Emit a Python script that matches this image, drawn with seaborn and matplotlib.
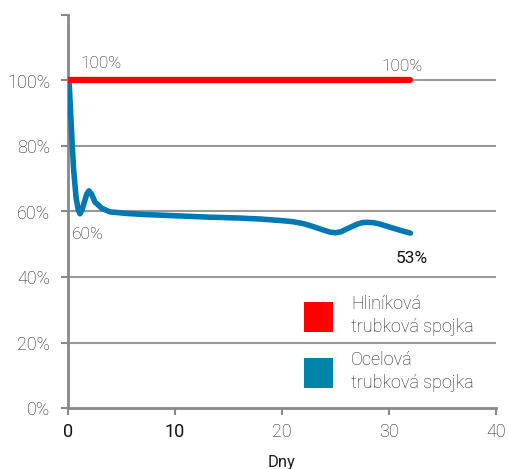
import matplotlib
matplotlib.use("Agg")
import matplotlib.pyplot as plt
import seaborn as sns
import pandas as pd
from matplotlib.patches import Patch

# ---- data ----
days_steel = [0, 0.05, 0.12, 0.28, 0.4, 0.53, 0.75, 0.95, 1.12, 1.3, 1.5, 1.75, 1.96, 2.2,
              2.52, 3.15, 3.9, 5.5, 7, 10, 13, 16, 18, 20, 21, 22, 23, 24, 24.5, 25, 25.5,
              26, 27, 27.5, 28, 28.5, 29, 30, 31, 32]
steel = [100, 99.8, 98.5, 88, 80, 72.6, 64.4, 60.6, 59.3, 60.4, 62.5, 65.3, 66.3, 65.3,
         62.9, 61, 59.9, 59.4, 59.1, 58.7, 58.3, 58, 57.7, 57.2, 56.9, 56.3, 55.3, 54.2, 53.7, 53.5, 53.8,
         54.6, 56.1, 56.6, 56.7, 56.6, 56.3, 55.3, 54.3, 53.4]
days_alu = [0, 32]
alu = [100, 100]

series_names = ["Hliníková\ntrubková spojka", "Ocelová\ntrubková spojka"]
x_ticks = [0, 10, 20, 30, 40]
y_ticks = [0, 20, 40, 60, 80, 100, 120]
y_tick_labels = ["0%", "20%", "40%", "60%", "80%", "100%", ""]
x_label = "Dny"

RED = "#ff0000"
BLUE_LINE = "#0079b2"
BLUE_PATCH = "#0085a8"
GRID = "#999999"
TXT = "#1e1e1e"

sns.set_theme(style="white")
plt.rcParams["font.family"] = ["Roboto", "DejaVu Sans"]
plt.rcParams["font.weight"] = "light"

fig = plt.figure(figsize=(5.10, 4.69), dpi=100)
ax = fig.add_axes([68 / 510, 1 - 408 / 469, (496 - 68) / 510, (408 - 15) / 469])

df_steel = pd.DataFrame({"day": days_steel, "value": steel})
df_alu = pd.DataFrame({"day": days_alu, "value": alu})

for y in y_ticks[1:-1]:
    ax.axhline(y, color=GRID, lw=1.5, zorder=0)

sns.lineplot(data=df_steel, x="day", y="value", ax=ax, color=BLUE_LINE, lw=4,
             solid_capstyle="round", solid_joinstyle="round", zorder=3)
sns.lineplot(data=df_alu, x="day", y="value", ax=ax, color=RED, lw=4.5,
             solid_capstyle="round", zorder=4)

ax.set_xlim(0, 40)
ax.set_ylim(0, 120)
ax.set_xticks(x_ticks)
ax.set_xticklabels([str(t) for t in x_ticks])
ax.set_yticks(y_ticks)
ax.set_yticklabels(y_tick_labels)
ax.set_xlabel(x_label, fontsize=12, color=TXT, labelpad=10)
ax.set_ylabel("")

for s in ["top", "right"]:
    ax.spines[s].set_visible(False)
for s in ["left", "bottom"]:
    ax.spines[s].set_color("#888888")
    ax.spines[s].set_linewidth(2)

ax.tick_params(axis="both", which="major", length=5, width=1.5, color="#888888",
               direction="out", labelsize=13, labelcolor=TXT, left=True, bottom=True)
ax.tick_params(axis="y", pad=8)
ax.tick_params(axis="x", pad=6)
for lbl, t in zip(ax.get_xticklabels(), x_ticks):
    if t in (0, 10):
        lbl.set_color("#111111")
        lbl.set_fontweight("normal")

# value annotations
ax.text(days_alu[0] + 1.2, alu[0] + 3, "100%", fontsize=12.5, color=TXT, ha="left", va="bottom")
ax.text(days_alu[-1] - 0.8, alu[-1] + 2, "100%", fontsize=12.5, color=TXT, ha="center", va="bottom")
ax.text(0.4, 53, "60%", fontsize=12.5, color=TXT, ha="left", va="center")
ax.text(32.1, 45.5, "53%", fontsize=12.5, color="#111111", ha="center", va="center",
        fontweight="normal")

handles = [Patch(facecolor=RED, edgecolor="none"), Patch(facecolor=BLUE_PATCH, edgecolor="none")]
leg = ax.legend(handles, series_names, loc="upper left",
                bbox_to_anchor=(304 / 510, 1 - 295 / 469), bbox_transform=fig.transFigure,
                frameon=False, fontsize=13, handlelength=1.6, handleheight=2.2,
                handletextpad=1.0, labelspacing=0.85, borderpad=0, borderaxespad=0)
for t in leg.get_texts():
    t.set_color(TXT)
    t.set_linespacing(1.35)

fig.savefig("out.png", dpi=100, facecolor="white")
